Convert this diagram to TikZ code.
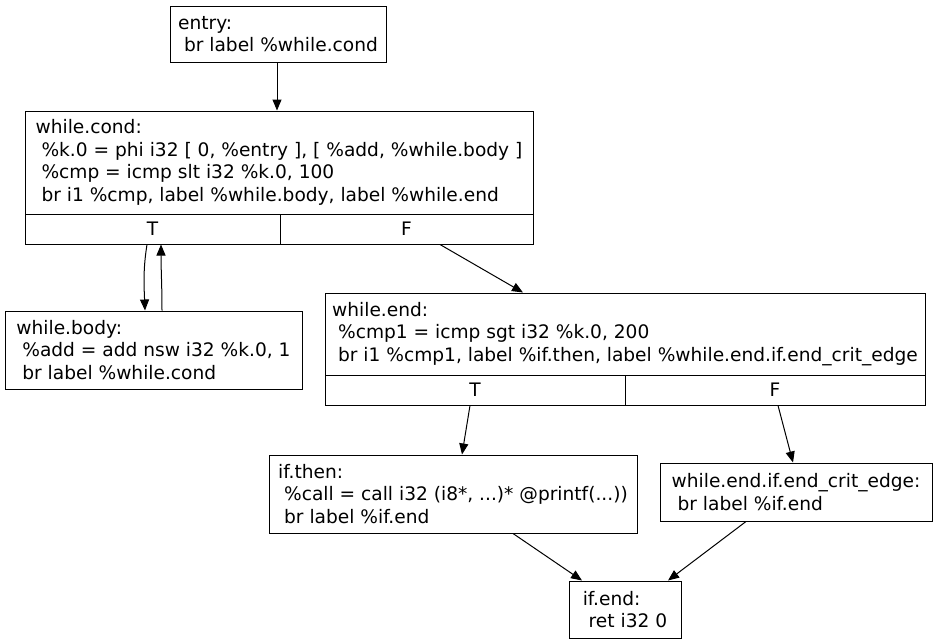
\documentclass[tikz,border=0pt]{standalone}
\usepackage{fontspec}
\setmainfont{DejaVu Sans}
\usetikzlibrary{arrows.meta}
\begin{document}
\begin{tikzpicture}[x=1pt,y=-1pt,
  box/.style={draw=black, line width=1pt, inner sep=0pt, align=left,
    font=\fontsize{18.6}{22.5}\selectfont},
  edge/.style={draw=black, line width=1pt, -{Triangle[length=11pt,width=9pt]}}]
\useasboundingbox[fill=white] (0,0) rectangle (939,643);
% entry
\node[box, minimum width=216pt, minimum height=56pt] (entry) at (278,34)
  {entry:\\\ br label \%while.cond};
% while.cond
\node[box, minimum width=508pt, minimum height=103pt] (wc) at (279,162.5)
  {while.cond:\\\ \%k.0 = phi i32 [ 0, \%entry ], [ \%add, \%while.body ]\\\ \%cmp = icmp slt i32 \%k.0, 100\\\ br i1 \%cmp, label \%while.body, label \%while.end};
\node[box, minimum width=255pt, minimum height=30pt] (wcT) at (152.5,229) {T};
\node[box, minimum width=253pt, minimum height=30pt] (wcF) at (406.5,229) {F};
% while.body
\node[box, minimum width=297pt, minimum height=78pt] (wb) at (153.5,350)
  {while.body:\\\ \%add = add nsw i32 \%k.0, 1\\\ br label \%while.cond};
% while.end
\node[box, minimum width=600pt, minimum height=82pt] (we) at (625,334)
  {while.end:\\\ \%cmp1 = icmp sgt i32 \%k.0, 200\\\ br i1 \%cmp1, label \%if.then, label \%while.end.if.end\_crit\_edge};
\node[box, minimum width=300pt, minimum height=30pt] (weT) at (475,390) {T};
\node[box, minimum width=300pt, minimum height=30pt] (weF) at (775,390) {F};
% if.then
\node[box, minimum width=368pt, minimum height=78pt] (it) at (453,494)
  {if.then:\\\ \%call = call i32 (i8*, ...)* @printf(...))\\\ br label \%if.end};
% crit edge
\node[box, minimum width=272pt, minimum height=58pt] (ce) at (796,492)
  {while.end.if.end\_crit\_edge:\\\ br label \%if.end};
% if.end
\node[box, minimum width=112pt, minimum height=57pt] (ie) at (625,609.5)
  {if.end:\\\ ret i32 0};
% edges
\draw[edge] ([xshift=-1pt]entry.south) -- ([xshift=-2pt]wc.north);
\draw[edge] ([xshift=-5.5pt]wcT.south) .. controls +(-4,25) and +(-1,-25) .. ([xshift=-8.5pt]wb.north);
\draw[edge] ([xshift=8.5pt]wb.north) .. controls +(0,-25) and +(0,25) .. ([xshift=8.5pt]wcT.south);
\draw[edge] ([xshift=33.5pt]wcF.south) -- ([xshift=-102pt]we.north);
\draw[edge] ([xshift=-5pt]weT.south) -- ([xshift=9pt]it.north);
\draw[edge] ([xshift=3pt]weF.south) -- ([xshift=-3pt]ce.north);
\draw[edge] ([xshift=60pt]it.south) -- ([xshift=-43pt]ie.north);
\draw[edge] ([xshift=-50pt]ce.south) -- ([xshift=43pt]ie.north);
\end{tikzpicture}
\end{document}
